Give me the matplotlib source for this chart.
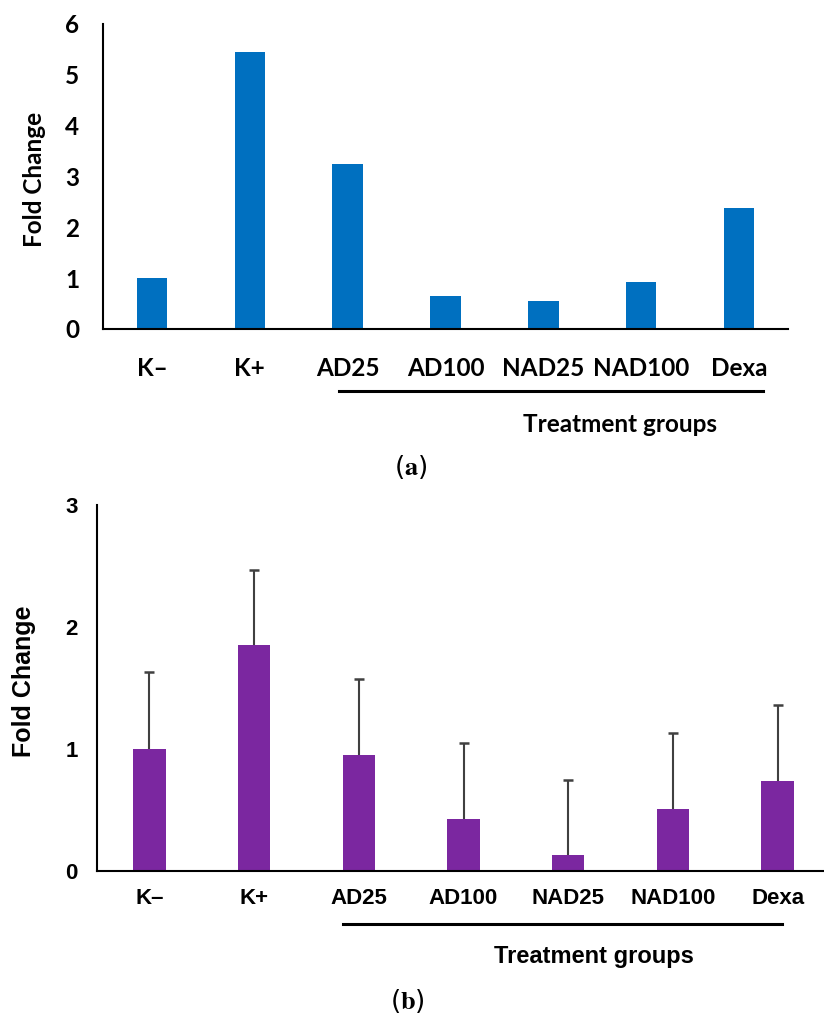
import matplotlib.pyplot as plt
from matplotlib.lines import Line2D

plt.rcParams["mathtext.fontset"] = "stix"

groups = ["K\u2013", "K+", "AD25", "AD100", "NAD25", "NAD100", "Dexa"]

# panel (a)
fold_a = [1.0, 5.45, 3.25, 0.65, 0.55, 0.92, 2.38]

# panel (b) with error bars
fold_b = [1.0, 1.85, 0.95, 0.43, 0.13, 0.51, 0.74]
err_b = [0.63, 0.62, 0.62, 0.62, 0.62, 0.62, 0.62]

W, H = 824, 1017


def fx(x):
    return x / W


def fy(y):
    return 1 - y / H


fig = plt.figure(figsize=(W / 100, H / 100), dpi=100)

# ---- (a) ----
font_a = "Lato"
ax1 = fig.add_axes([fx(103), fy(329), (788 - 103) / W, (329 - 24) / H])
ax1.bar(range(len(groups)), fold_a, width=0.31, color="#0070C0")
ax1.set_xlim(-0.5, len(groups) - 0.5)
ax1.set_ylim(0, 6)
ax1.set_yticks(range(0, 7))
ax1.set_xticks(range(len(groups)))
ax1.set_xticklabels(groups)
ax1.tick_params(axis="x", length=0, pad=20)
ax1.tick_params(axis="y", length=0, pad=17)
for lab in ax1.get_xticklabels() + ax1.get_yticklabels():
    lab.set_fontfamily(font_a)
    lab.set_fontweight("bold")
    lab.set_fontsize(17.5)
for s in ["top", "right"]:
    ax1.spines[s].set_visible(False)
for s in ["left", "bottom"]:
    ax1.spines[s].set_linewidth(1.5)
fig.text(fx(35), fy(179), "Fold Change", rotation=90, ha="center", va="center",
         fontfamily=font_a, fontweight="bold", fontsize=17.5)
fig.add_artist(Line2D([fx(339), fx(763)], [fy(391), fy(391)], color="black", lw=2.2))
fig.text(fx(620), fy(424), "Treatment groups", ha="center", va="center",
         fontfamily=font_a, fontweight="bold", fontsize=17.5)
fig.text(fx(411), fy(467), r"($\mathbf{a}$)", ha="center", va="center", fontsize=19)

# ---- (b) ----
font_b = "Liberation Sans"
ax2 = fig.add_axes([fx(97), fy(871), (830 - 97) / W, (871 - 505) / H])
ax2.bar(range(len(groups)), fold_b, width=0.31, color="#7B27A0")
eb = ax2.errorbar(range(len(groups)), fold_b, yerr=[[0] * len(groups), err_b], fmt="none",
                  ecolor="#404040", elinewidth=1.5, capsize=3.8, capthick=1.8)
# only the upper cap is shown
eb[1][0].set_visible(False)
ax2.set_xlim(-0.5, len(groups) - 0.5)
ax2.set_ylim(0, 3)
ax2.set_yticks(range(0, 4))
ax2.set_xticks(range(len(groups)))
ax2.set_xticklabels(groups)
ax2.tick_params(axis="x", length=0, pad=12)
ax2.tick_params(axis="y", length=0, pad=14)
for lab in ax2.get_xticklabels() + ax2.get_yticklabels():
    lab.set_fontfamily(font_b)
    lab.set_fontweight("bold")
    lab.set_fontsize(16)
for s in ["top", "right"]:
    ax2.spines[s].set_visible(False)
for s in ["left", "bottom"]:
    ax2.spines[s].set_linewidth(1.5)
fig.text(fx(24), fy(681), "Fold Change", rotation=90, ha="center", va="center",
         fontfamily=font_b, fontweight="bold", fontsize=18)
fig.add_artist(Line2D([fx(343), fx(782)], [fy(924), fy(924)], color="black", lw=2.2))
fig.text(fx(594), fy(956), "Treatment groups", ha="center", va="center",
         fontfamily=font_b, fontweight="bold", fontsize=17)
fig.text(fx(407), fy(1001), r"($\mathbf{b}$)", ha="center", va="center", fontsize=19)

fig.savefig("out.png", dpi=100, facecolor="white")
